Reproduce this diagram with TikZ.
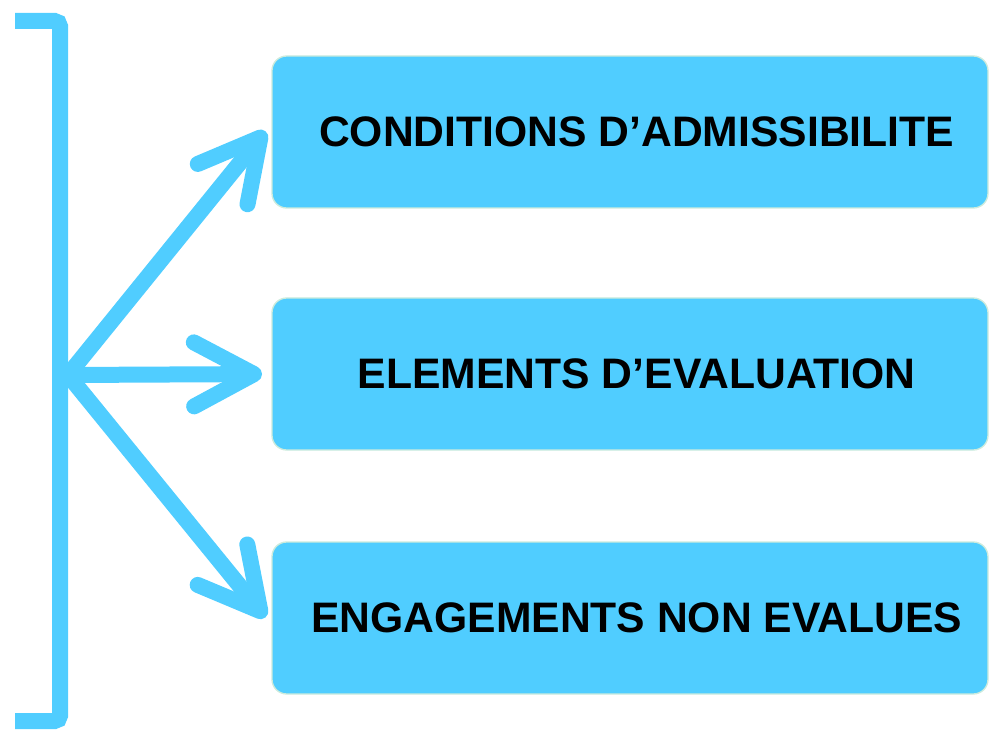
\documentclass[tikz,border=0pt]{standalone}
\usepackage{fontspec}
\setmainfont{Liberation Sans}
\usetikzlibrary{arrows.meta}
\definecolor{boxblue}{RGB}{80,205,255}
\definecolor{boxedge}{RGB}{205,235,220}
\begin{document}
\begin{tikzpicture}[x=0.75pt,y=-0.75pt,
        item/.style={draw=boxedge,line width=1pt,fill=boxblue,rounded corners=11pt,
            minimum width=537pt,minimum height=114pt,inner sep=0pt,
            font=\bfseries\fontsize{32}{36}\selectfont,
            execute at begin node=\hspace*{10pt}},
        link/.style={draw=boxblue,line width=12pt,line cap=round,
            -{Straight Barb[length=45pt,width=48pt,round]},shorten >=7pt}]
        \useasboundingbox (0,0) rectangle (990,731);
        % bracket
        \draw[boxblue,line width=12pt,rounded corners=4pt] (15,21) -- (60,21) -- (60,721) -- (15,721);
        \coordinate (hub) at (68,375);
        \node[item] (admis) at (630,132) {CONDITIONS D’ADMISSIBILITE};
        \node[item] (eval) at (630,374) {ELEMENTS D’EVALUATION};
        \node[item] (engag) at (630,618) {ENGAGEMENTS NON EVALUES};
        \draw[link] (hub) -- ([yshift=6pt]admis.west);
        \draw[link] (hub) -- (eval.west);
        \draw[link] (hub) -- ([yshift=-5pt]engag.west);
    \end{tikzpicture}
\end{document}
